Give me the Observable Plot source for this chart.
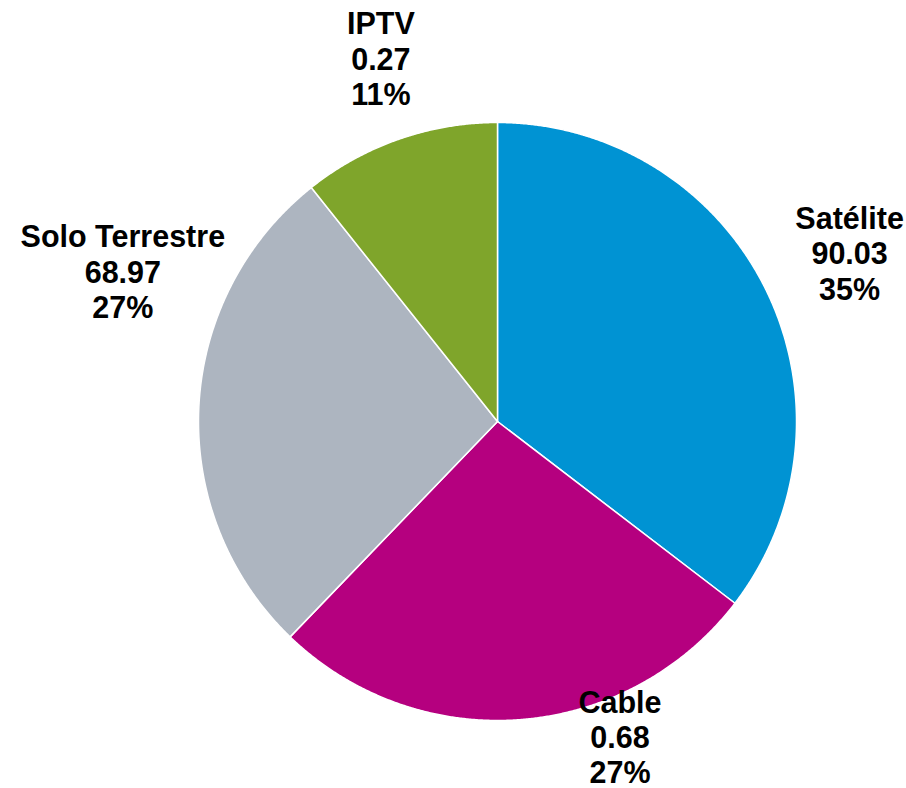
<!DOCTYPE html>
<html><head><meta charset="utf-8">
<script src="https://cdn.jsdelivr.net/npm/d3@7"></script>
<script src="https://cdn.jsdelivr.net/npm/@observablehq/plot@0.6"></script>
<style>html,body{margin:0;padding:0;background:#fff;overflow:hidden}</style>
</head><body><div id="chart"></div>
<script>
// Data
const categories = ["Satélite", "Cable", "Solo Terrestre", "IPTV"];
const valueLabels = ["90.03", "0.68", "68.97", "0.27"];
const percentLabels = ["35%", "27%", "27%", "11%"];
const shares = [35.4, 26.8, 27.1, 10.7]; // slice sizes (%)

// Styling / layout (not data)
const colors = ["#0093d3", "#b5007f", "#adb5c0", "#7fa52b"];
const labelNudge = { // pixel offsets from the slice's outer mid-point
  "Satélite": [84, -36],
  "Cable": [100, 17],
  "Solo Terrestre": [-76, -136],
  "IPTV": [-18, -81]
};

const total = d3.sum(shares);
let acc = 0;
const slices = categories.map((name, i) => {
  const a0 = acc / total * 2 * Math.PI;
  acc += shares[i];
  const a1 = acc / total * 2 * Math.PI;
  return {name, i, a0, a1, mid: (a0 + a1) / 2};
});

const arcPoint = a => [Math.sin(a), Math.cos(a)];
const features = slices.map(s => {
  const n = Math.max(2, Math.ceil((s.a1 - s.a0) / (Math.PI / 720)));
  const ring = [[0, 0]];
  for (let k = 0; k <= n; k++) ring.push(arcPoint(s.a0 + (s.a1 - s.a0) * k / n));
  ring.push([0, 0]);
  return {type: "Feature", properties: {name: s.name}, geometry: {type: "Polygon", coordinates: [ring]}};
});

const outlineRing = d3.range(0, 361).map(d => arcPoint(d * Math.PI / 180));
const outline = {type: "Polygon", coordinates: [outlineRing]};

const labels = slices.map(s => ({
  name: s.name,
  x: Math.sin(s.mid),
  y: Math.cos(s.mid),
  text: `${s.name}\n${valueLabels[s.i]}\n${percentLabels[s.i]}`
}));

const textMarks = labels.map(l => Plot.text([l], {
  x: "x", y: "y", text: "text",
  dx: labelNudge[l.name][0], dy: labelNudge[l.name][1],
  fontSize: 30.5, fontWeight: "bold", fill: "#000",
  fontFamily: "'Liberation Sans', Arial, sans-serif",
  lineHeight: 1.16, textAnchor: "middle"
}));

const chart = Plot.plot({
  width: 906,
  height: 788,
  margin: 0,
  style: {background: "#fff"},
  projection: {
    type: () => d3.geoIdentity().reflectY(true),
    domain: outline,
    insetLeft: 198, insetRight: 110, insetTop: 122, insetBottom: 68,
    clip: false
  },
  color: {domain: categories, range: colors},
  marks: [
    Plot.geo(features, {fill: d => d.properties.name, stroke: "#fff", strokeWidth: 1.5, strokeLinejoin: "round"}),
    ...textMarks
  ]
});
document.getElementById("chart").appendChild(chart);
</script>
</body></html>
